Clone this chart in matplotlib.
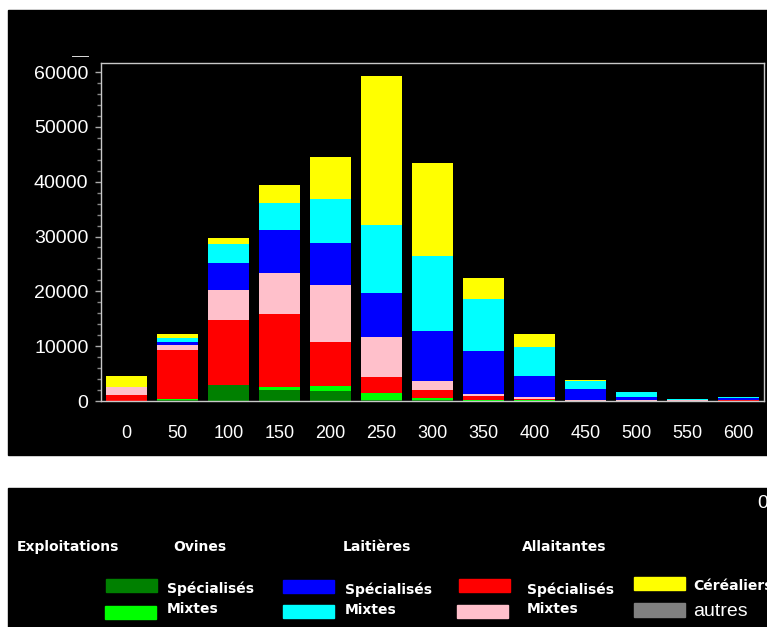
import matplotlib
matplotlib.use("Agg")
from matplotlib import pyplot as plt
from matplotlib.patches import Rectangle
from matplotlib.lines import Line2D
from matplotlib.ticker import MultipleLocator
import numpy as np

# size classes (x axis)
categories = [0, 50, 100, 150, 200, 250, 300, 350, 400, 450, 500, 550, 600]

# stacked series, bottom to top (number of exploitations)
ovines_spec   = [0, 150, 2960, 2050, 1860, 200, 100, 50, 50, 0, 0, 0, 0]
ovines_mixtes = [0, 250, 0, 540, 920, 1350, 480, 150, 100, 0, 0, 0, 0]
allait_spec   = [1130, 8950, 11740, 13260, 8030, 2740, 1470, 800, 300, 50, 0, 0, 150]
allait_mixtes = [1460, 840, 5610, 7440, 10290, 7310, 1510, 310, 320, 200, 100, 250, 100]
lait_spec     = [0, 490, 4930, 7850, 7670, 8030, 9130, 7790, 3700, 1900, 700, 0, 300]
lait_mixtes   = [0, 790, 3340, 4930, 8030, 12480, 13820, 9440, 5430, 1410, 900, 150, 180]
cerealiers    = [2010, 680, 1100, 3290, 7670, 27100, 16990, 3890, 2250, 180, 0, 0, 0]
autres        = [0, 0, 0, 0, 0, 0, 0, 0, 0, 0, 0, 0, 0]

series = [ovines_spec, ovines_mixtes, allait_spec, allait_mixtes,
          lait_spec, lait_mixtes, cerealiers, autres]
colors = ["#008000", "#00ff00", "#ff0000", "#ffc0cb",
          "#0000ff", "#00ffff", "#ffff00", "#808080"]

W, H = 767, 627
fig = plt.figure(figsize=(W / 100, H / 100), dpi=100)
fig.patch.set_facecolor("white")

def fx(px):
    return px / W

def fy(py):
    return 1 - py / H

# two black panels
fig.add_artist(Rectangle((fx(8), fy(455)), fx(767 - 8), (455 - 10) / H,
                         transform=fig.transFigure, color="black", zorder=0))
fig.add_artist(Rectangle((fx(8), 0), fx(767 - 8), (627 - 488) / H,
                         transform=fig.transFigure, color="black", zorder=0))

ax = fig.add_axes([fx(101), fy(401), fx(764 - 101), (401 - 63) / H])
ax.set_facecolor("black")

bottom = np.zeros(len(categories))
for vals, col in zip(series, colors):
    ax.bar(categories, vals, width=41, bottom=bottom, color=col, linewidth=0)
    bottom += np.array(vals)

ax.set_xlim(-25, 625)
ax.set_ylim(0, 61650)
ax.set_xticks(categories)
ax.yaxis.set_major_locator(MultipleLocator(10000))
ax.yaxis.set_minor_locator(MultipleLocator(2000))

for s in ax.spines.values():
    s.set_color("#c8c8c8")
    s.set_linewidth(1)

ax.tick_params(axis="x", length=0, pad=17, labelsize=13, labelcolor="white")
ax.tick_params(axis="y", which="major", length=4, width=1, color="#aaaaaa",
               pad=5, labelsize=14, labelcolor="white")
ax.tick_params(axis="y", which="minor", length=3, width=1, color="#888888")
for lab in ax.get_xticklabels() + ax.get_yticklabels():
    lab.set_family("Liberation Sans")

# small mark above the y axis
fig.add_artist(Line2D([fx(72), fx(88)], [fy(56), fy(56)], color="#dddddd",
                      lw=0.7, transform=fig.transFigure))

# legend panel
hdr = dict(color="white", fontsize=10, fontweight="bold",
           family="DejaVu Sans", va="center")
fig.text(fx(17), fy(547), "Exploitations", **hdr)
fig.text(fx(173), fy(547), "Ovines", **hdr)
fig.text(fx(343), fy(547), "Laitières", **hdr)
fig.text(fx(522), fy(547), "Allaitantes", **hdr)
fig.text(fx(757), fy(503), "0", color="white", fontsize=14,
         family="Liberation Sans", va="center")

items = [
    (0, 106, 585, "Spécialisés", 167, 589),
    (1, 105, 612, "Mixtes", 167, 609),
    (4, 283, 586, "Spécialisés", 345, 590),
    (5, 283, 611, "Mixtes", 345, 610),
    (2, 459, 585, "Spécialisés", 527, 590),
    (3, 457, 611, "Mixtes", 527, 609),
    (6, 634, 583, "Céréaliers", 693, 586),
]
for idx, px, py, label, tx, ty in items:
    fig.add_artist(Rectangle((fx(px), fy(py + 7)), fx(51), 13 / H,
                             transform=fig.transFigure, color=colors[idx]))
    fig.text(fx(tx), fy(ty), label, **hdr)

fig.add_artist(Rectangle((fx(634), fy(617)), fx(51), 14 / H,
                         transform=fig.transFigure, color=colors[7]))
fig.text(fx(693), fy(611), "autres", color="white", fontsize=14,
         family="Liberation Sans", va="center")

fig.savefig("out.png", dpi=100, facecolor="white")
